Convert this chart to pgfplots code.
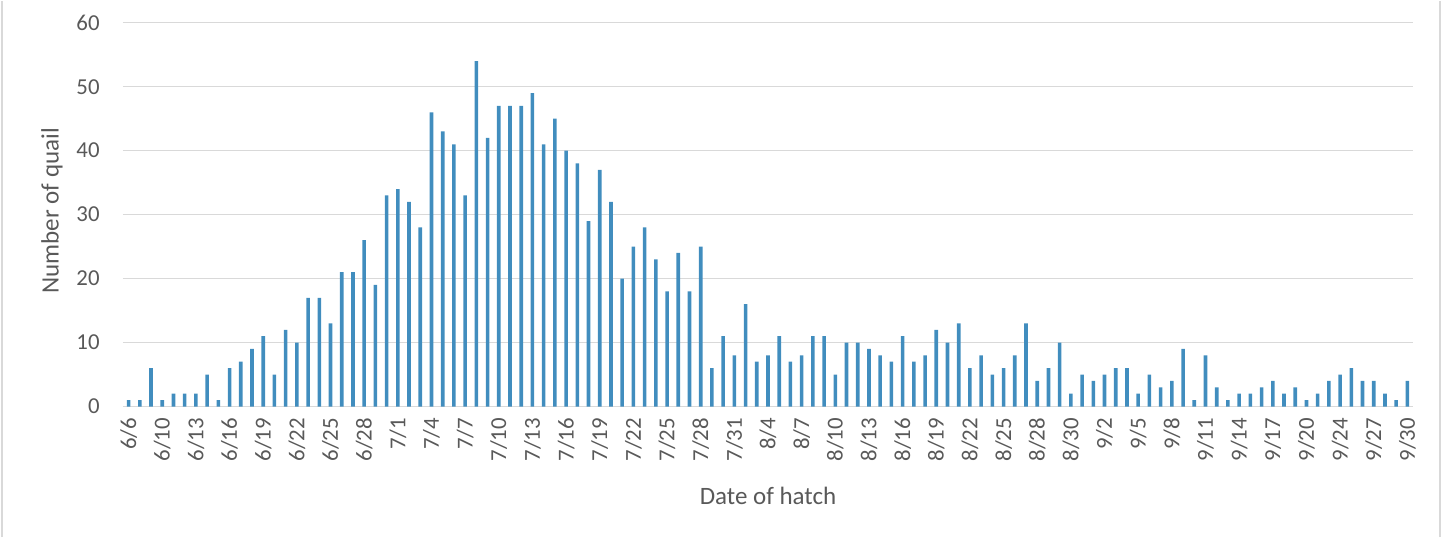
\documentclass[border=0pt]{standalone}
\usepackage{fontspec}
\setmainfont{Carlito}
\usepackage{pgfplots}
\pgfplotsset{compat=1.18}
\definecolor{barblue}{RGB}{65,141,190}
\definecolor{txtgray}{RGB}{89,89,89}
\definecolor{gridgray}{RGB}{217,217,217}
\begin{document}
\begin{tikzpicture}
\begin{axis}[
  at={(0,0)}, anchor=south west,
  scale only axis,
  width=645pt, height=191.9pt,
  xmin=-0.5, xmax=114.5,
  ymin=0, ymax=60,
  ytick={0,10,...,60},
  xtick={0,3,...,114},
  xticklabels={6/6,6/10,6/13,6/16,6/19,6/22,6/25,6/28,7/1,7/4,7/7,7/10,7/13,7/16,7/19,7/22,7/25,7/28,7/31,8/4,8/7,8/10,8/13,8/16,8/19,8/22,8/25,8/28,8/30,9/2,9/5,9/8,9/11,9/14,9/17,9/20,9/24,9/27,9/30},
  ymajorgrids,
  grid style={draw=gridgray, line width=0.75pt},
  axis x line*=bottom,
  axis y line*=left,
  x axis line style={draw=gridgray, line width=0.75pt, -},
  y axis line style={draw=none},
  major tick length=0pt,
  /pgf/number format/assume math mode=true,
  yticklabel style={font=\fontsize{11.4}{13}\selectfont, text=txtgray, anchor=east, inner sep=0pt, xshift=-11.5pt},
  xticklabel style={font=\fontsize{11.4}{13}\selectfont, text=txtgray, rotate=90, anchor=east, inner xsep=5.5pt, inner ysep=0pt},
  xlabel={Date of hatch},
  ylabel={Number of quail},
  xlabel style={font=\fontsize{12.5}{14}\selectfont, text=txtgray, at={(axis description cs:0.5,-0.2332)}, anchor=center},
  ylabel style={font=\fontsize{12.5}{14}\selectfont, text=txtgray, at={(axis description cs:-0.055,0.51)}, anchor=center},
  clip=false,
]
\addplot[ybar, bar width=1.8pt, fill=barblue, draw=none]
  table[x expr=\coordindex, y index=0, header=false] {
1
1
6
1
2
2
2
5
1
6
7
9
11
5
12
10
17
17
13
21
21
26
19
33
34
32
28
46
43
41
33
54
42
47
47
47
49
41
45
40
38
29
37
32
20
25
28
23
18
24
18
25
6
11
8
16
7
8
11
7
8
11
11
5
10
10
9
8
7
11
7
8
12
10
13
6
8
5
6
8
13
4
6
10
2
5
4
5
6
6
2
5
3
4
9
1
8
3
1
2
2
3
4
2
3
1
2
4
5
6
4
4
2
1
4
};
\end{axis}
\draw[gridgray, line width=1pt] (-60.5pt,-65.25pt) -- (-60.5pt,202.75pt);
\draw[gridgray, line width=1pt] (658.5pt,-65.25pt) -- (658.5pt,202.75pt);
\path (-61.5pt,-65.25pt) rectangle (660pt,202.75pt);
\end{tikzpicture}
\end{document}
